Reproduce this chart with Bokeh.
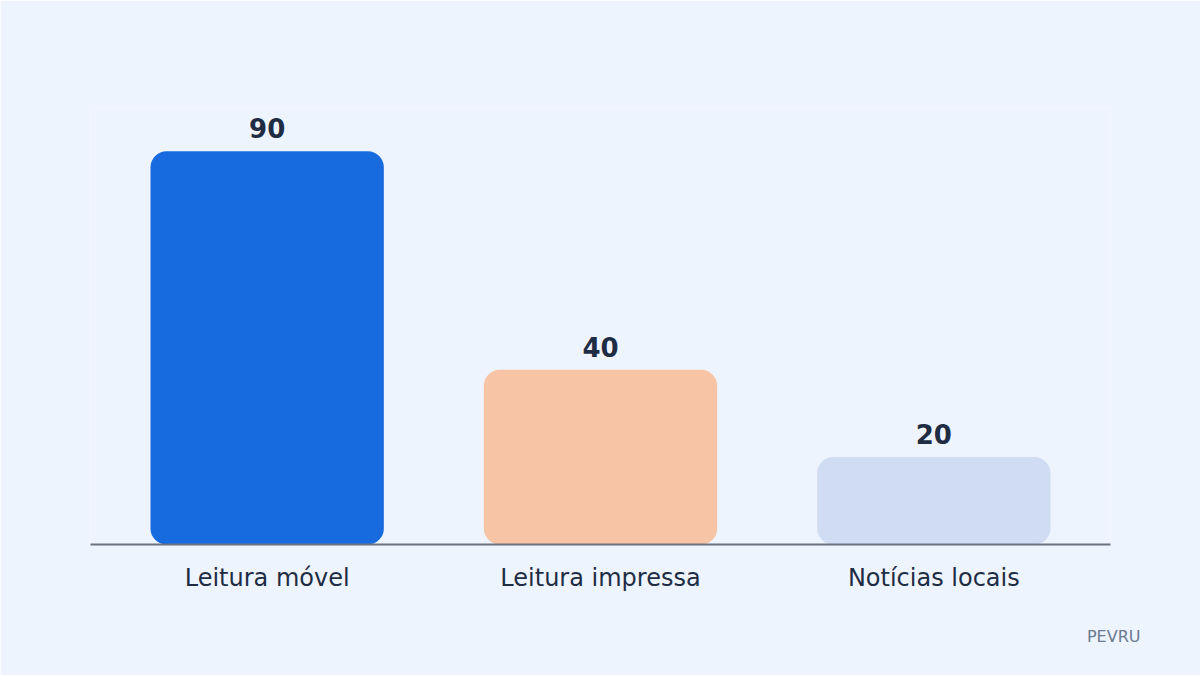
from bokeh.plotting import figure
from bokeh.models import ColumnDataSource, Range1d, FixedTicker, Title
from bokeh.core.properties import value
from bokeh.embed import file_html
from bokeh.resources import INLINE

categories = ["Leitura móvel", "Leitura impressa", "Notícias locais"]
values = [90, 40, 20]
colors = ["#176BDF", "#F7C4A6", "#D0DCF2"]
positions = [0.5, 1.5, 2.5]

BG = "#EEF4FE"
TXT = "#1F2D44"

src = ColumnDataSource(dict(x=positions, top=values, color=colors,
                            label=[str(v) for v in values]))

p = figure(width=1200, height=675, output_backend="svg", toolbar_location=None,
           x_range=Range1d(-0.03, 3.03), y_range=Range1d(0, 100),
           min_border_left=90, min_border_right=90, min_border_top=107, min_border_bottom=131)
p.background_fill_color = BG
p.border_fill_color = BG
p.outline_line_color = None
p.grid.visible = False
p.yaxis.visible = False

p.vbar(x="x", top="top", bottom=0, width=0.7, color="color", line_color=None,
       border_radius=16, source=src)

p.text(x="x", y="top", text="label", source=src, y_offset=-13,
       text_align="center", text_baseline="bottom",
       text_font=value("DejaVu Sans"), text_font_style="bold",
       text_font_size="26px", text_color=TXT)

ax = p.xaxis[0]
ax.ticker = FixedTicker(ticks=positions)
ax.major_label_overrides = {pos: c for pos, c in zip(positions, categories)}
ax.major_tick_line_color = None
ax.minor_tick_line_color = None
ax.major_tick_out = 0
ax.major_tick_in = 0
ax.axis_line_color = "#6B7280"
ax.axis_line_width = 2
ax.major_label_standoff = 19
ax.major_label_text_font = "DejaVu Sans"
ax.major_label_text_font_size = "24px"
ax.major_label_text_color = TXT

p.add_layout(Title(text="PEVRU", align="right", offset=-30, standoff=60,
                   text_font="DejaVu Sans", text_font_size="16px",
                   text_font_style="normal", text_color="#6B7A90"), "below")

open("out.html", "w").write(file_html(p, INLINE))
